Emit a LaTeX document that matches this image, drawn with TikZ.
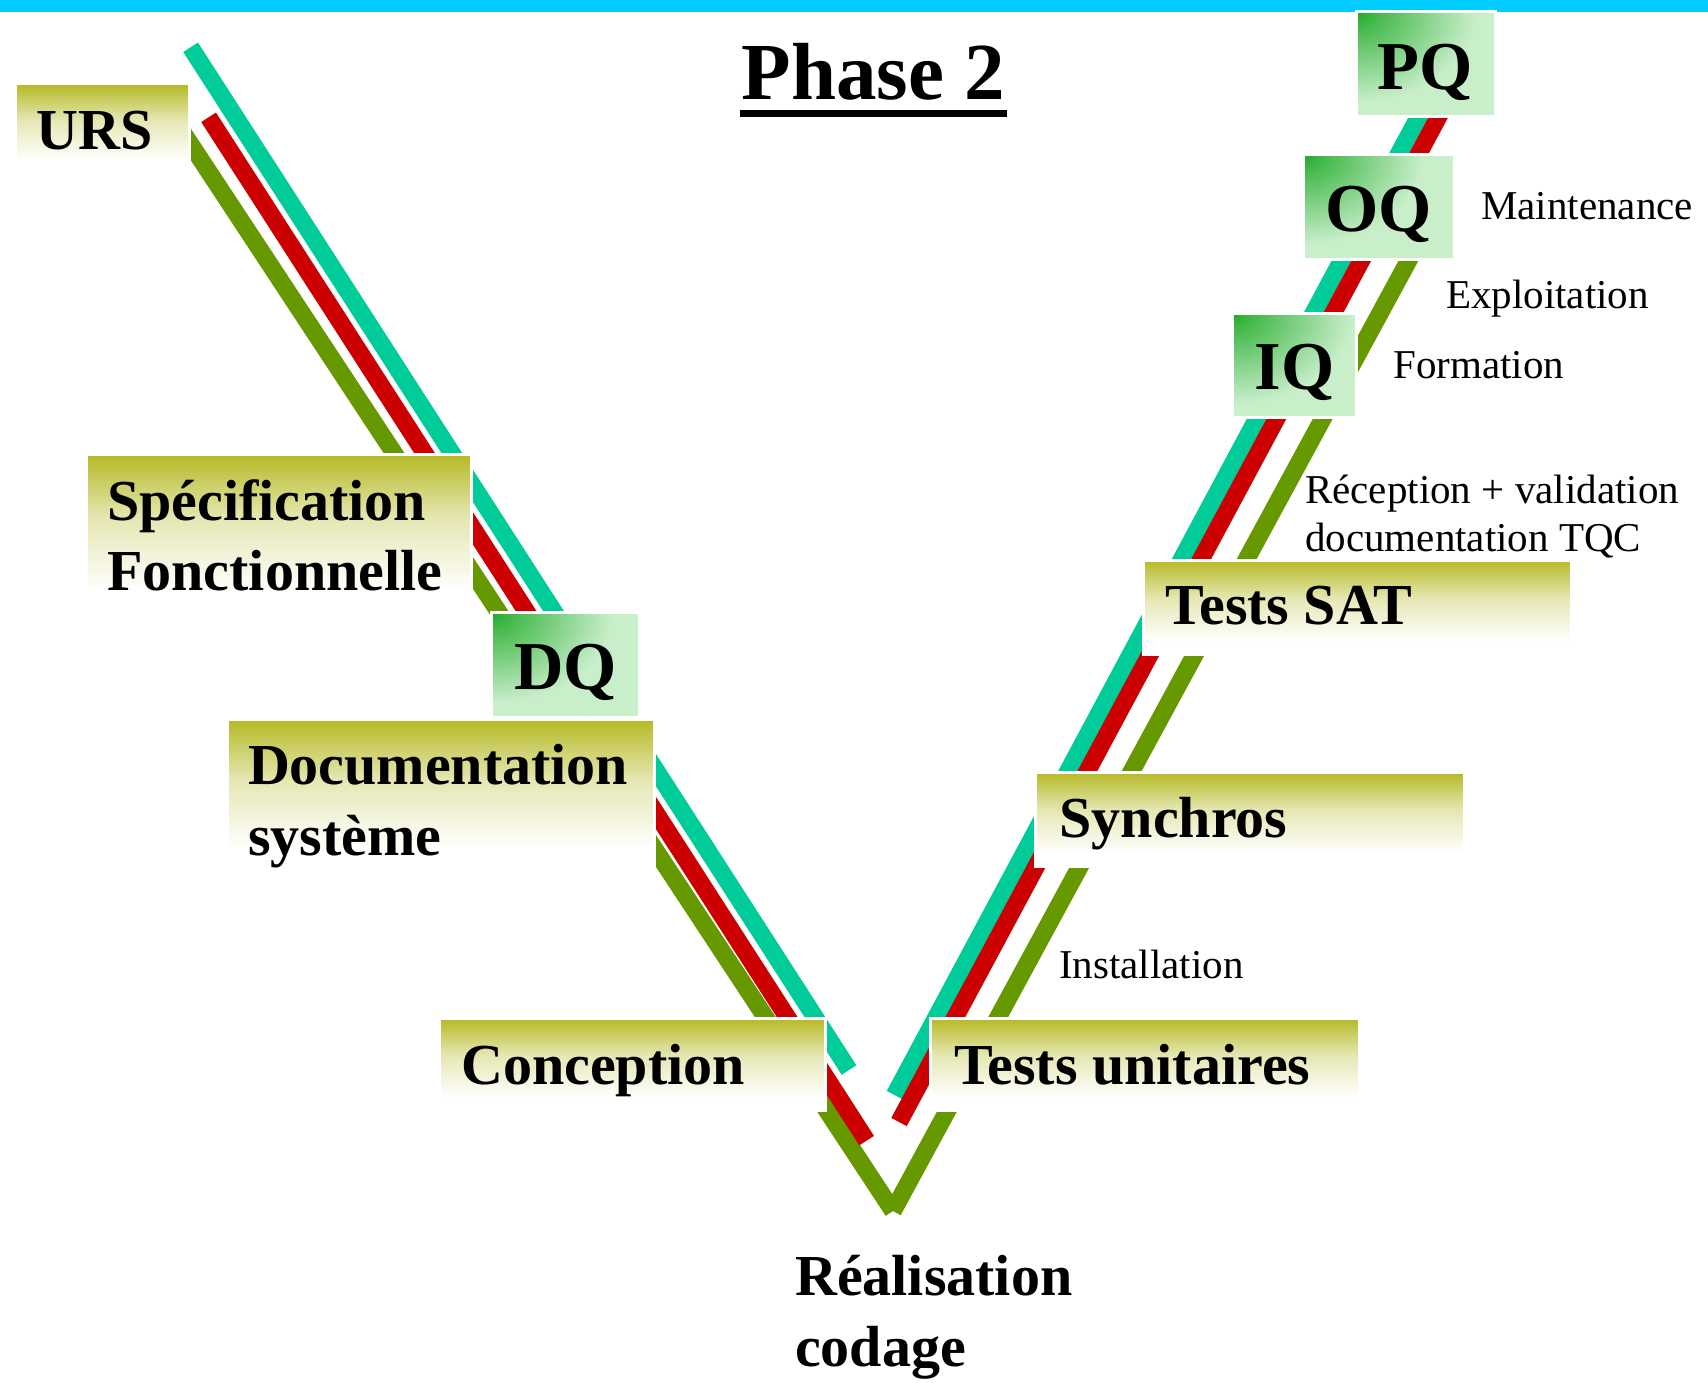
\documentclass[tikz,border=0pt]{standalone}
\usepackage{fontspec}
\setmainfont{Liberation Serif}
\definecolor{cyanbar}{RGB}{0,204,255}
\definecolor{tealline}{RGB}{0,204,153}
\definecolor{redline}{RGB}{204,0,0}
\definecolor{greenline}{RGB}{102,153,0}
\definecolor{olivebox}{RGB}{181,185,35}
\colorlet{olivemid}{olivebox!35!white}
\definecolor{dkgreen}{RGB}{32,170,40}
\definecolor{ltgreen}{RGB}{200,238,202}
\colorlet{midgreen}{dkgreen!80!ltgreen}
\pgfdeclareverticalshading{oliveshade}{100bp}{color(0bp)=(white); color(25bp)=(white); color(32bp)=(white); color(55bp)=(olivemid); color(75bp)=(olivebox); color(100bp)=(olivebox)}
\pgfdeclareradialshading{cornerglow}{\pgfpoint{0bp}{0bp}}{color(0bp)=(dkgreen); color(2bp)=(midgreen); color(12.5bp)=(ltgreen); color(50bp)=(ltgreen)}
\begin{document}
\begin{tikzpicture}[x=1pt,y=-1pt,
  band/.style={line width=17.5pt, line cap=butt},
  obox/.style={shading=oliveshade, draw=white, line width=3pt, inner sep=0pt, outer sep=0pt, anchor=north west},
  gbox/.style={fill=ltgreen, draw=white, line width=3pt, inner sep=0pt, outer sep=0pt, anchor=north west,
    path picture={\shade[shading=cornerglow] (path picture bounding box.north west) ellipse [x radius=240pt, y radius=180pt];}},
  big/.style={font=\bfseries\fontsize{58}{70}\selectfont, inner sep=0pt, anchor=base west},
  qtxt/.style={font=\bfseries\fontsize{68.5}{70}\selectfont, inner sep=0pt, anchor=base},
  small/.style={font=\fontsize{41}{48}\selectfont, inner sep=0pt, anchor=base west}]
\useasboundingbox (0,0) rectangle (1708,1383);
\fill[white] (0,0) rectangle (1708,1383);
\fill[cyanbar] (0,0) rectangle (1708,11.7);

% title
\node[font=\bfseries\fontsize{81}{90}\selectfont, anchor=base, inner sep=0pt] (title) at (873.5,100) {Phase 2};
\draw[line width=7pt] ([xshift=-2pt,yshift=-13.7pt]title.base west) -- ([xshift=2pt,yshift=-13.7pt]title.base east);

% band end points
\coordinate (t1) at (190.6,47.3);
\coordinate (t2) at (849,1070);
\coordinate (r1) at (208.6,117.3);
\coordinate (r2) at (866.6,1140.6);
\coordinate (g1) at (180,128);
\coordinate (gv) at (893,1211);
\coordinate (g3) at (1436,210);
\coordinate (tr1) at (894.5,1095);
\coordinate (tr2) at (1449,60);
\coordinate (rr1) at (899,1122);
\coordinate (rr2) at (1469,60);

% bands
\draw[band, greenline] (g1) -- (gv);
\draw[band, greenline] (gv) -- (g3);
\draw[band, tealline] (t1) -- (t2);
\draw[band, redline] (r1) -- (r2);
\draw[band, tealline] (tr1) -- (tr2);
\draw[band, redline] (rr1) -- (rr2);

% olive boxes
\node[obox, minimum width=174pt, minimum height=89pt] (urs) at (15.3,84) {};
\node[obox, minimum width=385pt, minimum height=159pt] (spec) at (86,454) {};
\node[obox, minimum width=427pt, minimum height=151pt] (doc) at (227,719) {};
\node[obox, minimum width=386pt, minimum height=92pt] (conc) at (439,1018) {};
\node[obox, minimum width=429pt, minimum height=92pt] (tu) at (930,1018) {};
\node[obox, minimum width=429pt, minimum height=94pt] (syn) at (1035.7,772) {};
\node[obox, minimum width=428pt, minimum height=94pt] (sat) at (1143,560) {};

% green boxes
\node[gbox, minimum width=148pt, minimum height=104.6pt] (dq) at (491.8,612.7) {};
\node[gbox, minimum width=124pt, minimum height=104.4pt] (iq) at (1232.7,313.3) {};
\node[gbox, minimum width=151pt, minimum height=105pt] (oq) at (1303,154.3) {};
\node[gbox, minimum width=139pt, minimum height=105pt] (pq) at (1356,12) {};

% box texts
\node[big] (ursT) at (36.4,150) {URS};
\node[big] (specT1) at (107,520) {Spécification};
\node[big] (specT2) at (107,590) {Fonctionnelle};
\node[big] (docT1) at (247.8,784) {Documentation};
\node[big] (docT2) at (247.8,855) {système};
\node[big] (concT) at (461,1084) {Conception};
\node[big] (tuT) at (954,1084) {Tests unitaires};
\node[big] (synT) at (1059.3,837) {Synchros};
\node[big] (satT) at (1165.7,624.3) {Tests SAT};
\node[big] (realT1) at (795,1295) {Réalisation};
\node[big] (realT2) at (795,1366.7) {codage};

\node[qtxt] (dqT) at ([yshift=-24.5pt]dq.center) {DQ};
\node[qtxt] (iqT) at ([yshift=-24pt]iq.center) {IQ};
\node[qtxt] (oqT) at ([yshift=-24.5pt]oq.center) {OQ};
\node[qtxt] (pqT) at ([yshift=-25pt]pq.center) {PQ};

% side notes
\node[small] (maint) at (1481,220) {Maintenance};
\node[small] (explo) at (1446,308.3) {Exploitation};
\node[small] (forma) at (1393,378.3) {Formation};
\node[small] (recep1) at (1305,503) {Réception + validation};
\node[small] (recep2) at (1305,551.5) {documentation TQC};
\node[small] (instal) at (1059,978.2) {Installation};
\end{tikzpicture}
\end{document}
